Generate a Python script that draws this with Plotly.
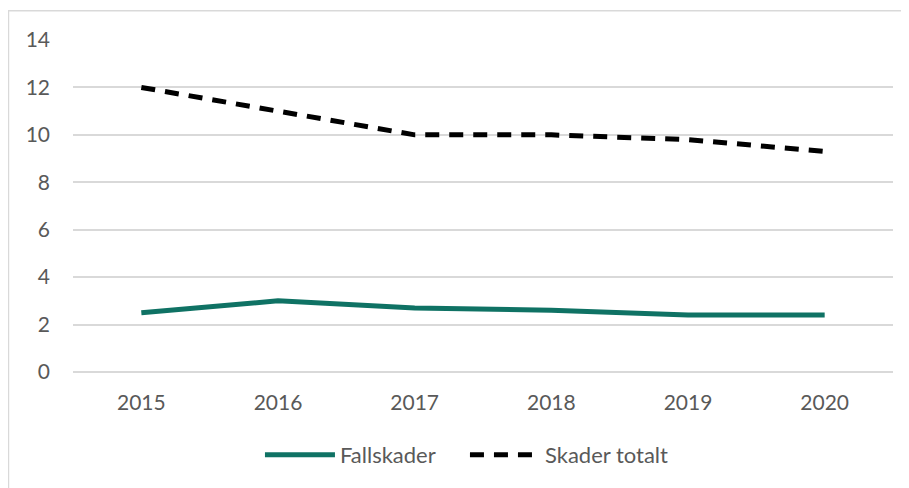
import plotly.graph_objects as go

years = ["2015", "2016", "2017", "2018", "2019", "2020"]
fallskader = [2.5, 3.0, 2.7, 2.6, 2.4, 2.4]
skader_totalt = [12.0, 11.0, 10.0, 10.0, 9.8, 9.3]
y_ticks = [0, 2, 4, 6, 8, 10, 12, 14]

FONT = "Lato"
TXT = "#595959"
GRID = "#D9D9D9"

fig = go.Figure()
fig.add_trace(go.Scatter(x=years, y=fallskader, mode="lines", name="Fallskader",
                         line=dict(color="#0F7264", width=5)))
fig.add_trace(go.Scatter(x=years, y=skader_totalt, mode="lines", name="Skader totalt",
                         line=dict(color="#000000", width=5, dash="14px,10px")))

fig.update_layout(
    width=901, height=480,
    margin=dict(l=64.6, r=15.6, t=32.3, b=116.3, autoexpand=False),
    paper_bgcolor="white", plot_bgcolor="white",
    font=dict(family=FONT, size=21, color=TXT),
    showlegend=True,
    legend=dict(orientation="h", x=0.478, xanchor="center", y=-0.25, yanchor="middle",
                font=dict(family=FONT, size=22, color=TXT), itemwidth=70, entrywidth=120,
                bgcolor="rgba(0,0,0,0)"),
    xaxis=dict(type="category", range=[-0.5, 5.5], showgrid=False, showline=False,
               zeroline=False, automargin=False,
               ticks="", ticklabelstandoff=16, tickfont=dict(size=21, color=TXT)),
    yaxis=dict(range=[0, 14], tickvals=y_ticks, showgrid=True, gridcolor=GRID, gridwidth=1.5,
               zeroline=True, zerolinecolor=GRID, zerolinewidth=1.5, showline=False,
               automargin=False,
               ticks="", ticklabelstandoff=22, tickfont=dict(size=21, color=TXT)),
    shapes=[dict(type="rect", xref="paper", yref="paper",
                 x0=-0.0787, x1=1.0178, y0=-0.4, y1=1.0884,
                 line=dict(color=GRID, width=1.5), fillcolor="rgba(0,0,0,0)", layer="below")],
)

fig.write_html("out.html")
